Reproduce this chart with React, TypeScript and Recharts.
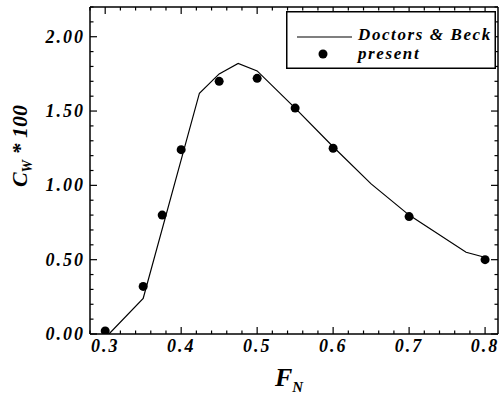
import React from "react";
import {
  ComposedChart,
  Line,
  Scatter,
  XAxis,
  YAxis,
  Legend,
} from "recharts";

// Doctors & Beck curve (F_N, Cw*100)
const dbFroude = [0.305, 0.35, 0.424, 0.45, 0.475, 0.5, 0.55, 0.6, 0.65, 0.7, 0.775, 0.797];
const dbCw = [0.0, 0.24, 1.62, 1.75, 1.82, 1.77, 1.52, 1.26, 1.01, 0.8, 0.55, 0.52];

// present computation
const presentFroude = [0.3, 0.35, 0.375, 0.4, 0.45, 0.5, 0.55, 0.6, 0.7, 0.8];
const presentCw = [0.02, 0.32, 0.8, 1.24, 1.7, 1.72, 1.52, 1.25, 0.79, 0.5];

const xTicks = [
  0.28, 0.3, 0.32, 0.34, 0.36, 0.38, 0.4, 0.42, 0.44, 0.46, 0.48, 0.5, 0.52, 0.54,
  0.56, 0.58, 0.6, 0.62, 0.64, 0.66, 0.68, 0.7, 0.72, 0.74, 0.76, 0.78, 0.8,
];
const yTicks = [
  0, 0.1, 0.2, 0.3, 0.4, 0.5, 0.6, 0.7, 0.8, 0.9, 1.0, 1.1, 1.2, 1.3, 1.4, 1.5, 1.6,
  1.7, 1.8, 1.9, 2.0, 2.1, 2.2,
];

const dbData = dbFroude.map((x, i) => ({ x, y: dbCw[i] }));
const presentData = presentFroude.map((x, i) => ({ x, y: presentCw[i] }));

const FONT = "'Liberation Serif', 'Times New Roman', serif";
const MAJOR = 7;
const MINOR = 3.5;

const isMajorX = (v: number) => Math.abs(v * 10 - Math.round(v * 10)) < 1e-6;
const isMajorY = (v: number) => Math.abs(v * 2 - Math.round(v * 2)) < 1e-6;

const labelStyle = {
  fontFamily: FONT,
  fontWeight: "bold" as const,
  fontStyle: "italic" as const,
  fontSize: 18,
  letterSpacing: 2,
};

function BottomTick(props: any) {
  const { x, y, payload } = props;
  const major = isMajorX(payload.value);
  return (
    <g>
      <line x1={x} x2={x} y1={y} y2={y - (major ? MAJOR : MINOR)} stroke="#000" strokeWidth={1.2} />
      {major && (
        <text x={x} y={y + 18} textAnchor="middle" fill="#000" style={labelStyle}>
          {payload.value.toFixed(1)}
        </text>
      )}
    </g>
  );
}

function TopTick(props: any) {
  const { x, y, payload } = props;
  const major = isMajorX(payload.value);
  return <line x1={x} x2={x} y1={y} y2={y + (major ? MAJOR : MINOR)} stroke="#000" strokeWidth={1.2} />;
}

function LeftTick(props: any) {
  const { x, y, payload } = props;
  const major = isMajorY(payload.value);
  return (
    <g>
      <line x1={x} x2={x + (major ? MAJOR : MINOR)} y1={y} y2={y} stroke="#000" strokeWidth={1.2} />
      {major && (
        <text x={x - 5} y={y + 6} textAnchor="end" fill="#000" style={labelStyle}>
          {payload.value.toFixed(2)}
        </text>
      )}
    </g>
  );
}

function RightTick(props: any) {
  const { x, y, payload } = props;
  const major = isMajorY(payload.value);
  return <line x1={x} x2={x - (major ? MAJOR : MINOR)} y1={y} y2={y} stroke="#000" strokeWidth={1.2} />;
}

function LegendBox() {
  const txt = { ...labelStyle, fontSize: 17, letterSpacing: 1.6 };
  return (
    <svg width={210} height={58} style={{ overflow: "visible", display: "block" }}>
      <rect x={0.75} y={0.75} width={208.5} height={56.5} fill="#fff" stroke="#000" strokeWidth={1.5} />
      <line x1={11} x2={66} y1={26} y2={26} stroke="#000" strokeWidth={1.2} />
      <circle cx={37} cy={43} r={4.5} fill="#000" />
      <text x={72} y={29} fill="#000" style={txt}>Doctors &amp; Beck</text>
      <text x={72} y={48} fill="#000" style={txt}>present</text>
    </svg>
  );
}

export default function App() {
  return (
    <div style={{ position: "absolute", left: 0, top: 0, width: 499, height: 395, background: "#fff" }}>
      <ComposedChart width={499} height={395} margin={{ top: 6, right: 0, left: 50, bottom: 31 }}>
        <XAxis
          dataKey="x"
          type="number"
          domain={[0.28, 0.817]}
          allowDataOverflow
          ticks={xTicks}
          interval={0}
          height={30}
          tickSize={0}
          tickMargin={0}
          tickLine={false}
          tick={BottomTick}
          axisLine={{ stroke: "#000", strokeWidth: 1.5 }}
        />
        <XAxis
          xAxisId="top"
          orientation="top"
          dataKey="x"
          type="number"
          domain={[0.28, 0.817]}
          allowDataOverflow
          ticks={xTicks}
          interval={0}
          height={1}
          tickSize={0}
          tickMargin={0}
          tickLine={false}
          tick={TopTick}
          axisLine={{ stroke: "#000", strokeWidth: 1.5 }}
        />
        <YAxis
          type="number"
          domain={[0, 2.2]}
          allowDataOverflow
          ticks={yTicks}
          interval={0}
          width={40}
          tickSize={0}
          tickMargin={0}
          tickLine={false}
          tick={LeftTick}
          axisLine={{ stroke: "#000", strokeWidth: 1.5 }}
          label={{
            content: () => (
              <text
                x={27}
                y={146}
                transform="rotate(-90, 27, 146)"
                textAnchor="middle"
                fill="#000"
                style={{ fontFamily: FONT, fontWeight: "bold", fontStyle: "italic", fontSize: 22 }}
              >
                C
                <tspan fontSize={14} dy={5}>W</tspan>
                <tspan dy={-5}> * 100</tspan>
              </text>
            ),
          }}
        />
        <YAxis
          yAxisId="right"
          orientation="right"
          type="number"
          domain={[0, 2.2]}
          allowDataOverflow
          ticks={yTicks}
          interval={0}
          width={1}
          tickSize={0}
          tickMargin={0}
          tickLine={false}
          tick={RightTick}
          axisLine={{ stroke: "#000", strokeWidth: 1.5 }}
        />
        <Line
          data={dbData}
          dataKey="y"
          type="linear"
          stroke="#000"
          strokeWidth={1.2}
          dot={false}
          isAnimationActive={false}
        />
        <Scatter
          data={presentData}
          dataKey="y"
          fill="#000"
          isAnimationActive={false}
          shape={(p: any) => <circle cx={p.cx} cy={p.cy} r={4.5} fill="#000" />}
        />
        <Legend
          layout="horizontal"
          verticalAlign="middle"
          align="center"
          wrapperStyle={{ left: 286, top: 11, width: 210, height: 58 }}
          content={() => <LegendBox />}
        />
      </ComposedChart>
      <svg width={499} height={395} style={{ position: "absolute", left: 0, top: 0, pointerEvents: "none" }}>
        <text x={275} y={386} fill="#000" style={{ fontFamily: FONT, fontWeight: "bold", fontStyle: "italic", fontSize: 26 }}>
          F
          <tspan fontSize={15} dy={6}>N</tspan>
        </text>
      </svg>
    </div>
  );
}
